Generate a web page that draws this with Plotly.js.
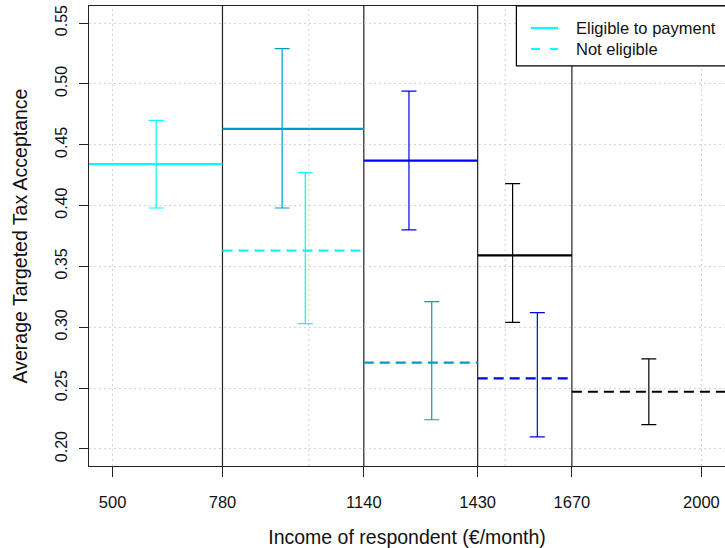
<!DOCTYPE html>
<html><head><meta charset="utf-8">
<script src="https://cdn.plot.ly/plotly-3.0.1.min.js"></script>
<style>html,body{margin:0;padding:0;background:#fff}</style>
</head><body><div id="chart" style="width:725px;height:548px"></div>
<script>
// Colours per income group (same sequence for both series)
const groupColors = ['#00FFFF', '#009ACD', '#0000FF', '#000000'];

// Eligible to payment (solid)
const eligLeft  = [0, 780, 1140, 1430];
const eligRight = [780, 1140, 1430, 1670];
const eligMean  = [0.434, 0.463, 0.437, 0.359];
const eligCIx   = [611, 932, 1255, 1519];
const eligLower = [0.398, 0.398, 0.380, 0.304];
const eligUpper = [0.470, 0.529, 0.494, 0.418];

// Not eligible (dashed)
const notLeft  = [780, 1140, 1430, 1670];
const notRight = [1140, 1430, 1670, 3000];
const notMean  = [0.363, 0.271, 0.258, 0.247];
const notCIx   = [991, 1313, 1582, 1866];
const notLower = [0.303, 0.224, 0.210, 0.220];
const notUpper = [0.427, 0.321, 0.312, 0.274];

const incomeBreaks = [780, 1140, 1430, 1670];
const xTickVals = [500, 780, 1140, 1430, 1670, 2000];
const xGrid = [500, 1000, 1500, 2000];

// Legend entries
const legendLabels = ['Eligible to payment', 'Not eligible'];
const legendDash = ['solid', '9px,10px'];
const legendColor = '#00FFFF';

const FONT = '"Liberation Sans", Arial, sans-serif';
const traces = [];

function addSeries(left, right, mean, cix, lower, upper, dash, name) {
  for (let i = 0; i < mean.length; i++) {
    traces.push({
      type: 'scatter', mode: 'lines',
      x: [left[i], right[i]], y: [mean[i], mean[i]],
      line: {color: groupColors[i], width: 2.2, dash: dash},
      name: name, showlegend: false, hoverinfo: 'skip'
    });
  }
  for (let i = 0; i < mean.length; i++) {
    traces.push({
      type: 'scatter', mode: 'markers',
      x: [cix[i]], y: [mean[i]],
      marker: {size: 1, opacity: 0},
      error_y: {type: 'data', symmetric: false,
        array: [upper[i] - mean[i]], arrayminus: [mean[i] - lower[i]],
        color: groupColors[i], thickness: 1.2, width: 7.5},
      showlegend: false, hoverinfo: 'skip'
    });
  }
}
addSeries(eligLeft, eligRight, eligMean, eligCIx, eligLower, eligUpper, 'solid', 'Eligible to payment');
addSeries(notLeft, notRight, notMean, notCIx, notLower, notUpper, '10px,6px', 'Not eligible');

const shapes = [];
xGrid.forEach(v => shapes.push({type: 'line', xref: 'x', yref: 'paper', x0: v, x1: v, y0: 0, y1: 1,
  line: {color: '#D3D3D3', width: 1, dash: '2px,3px'}, layer: 'below'}));
incomeBreaks.forEach(v => shapes.push({type: 'line', xref: 'x', yref: 'paper', x0: v, x1: v, y0: 0, y1: 1,
  line: {color: '#222222', width: 1.2}, layer: 'between'}));
// legend frame
shapes.push({type: 'rect', xref: 'paper', yref: 'paper', x0: 0.672, x1: 1.01, y0: 0.870, y1: 1.0,
  fillcolor: '#fff', line: {color: '#000', width: 1.2}, layer: 'above'});
const annotations = [];
const rowY = [0.9522, 0.9065];
legendLabels.forEach((lab, i) => {
  shapes.push({type: 'line', xref: 'paper', yref: 'paper', x0: 0.695, x1: 0.7374, y0: rowY[i], y1: rowY[i],
    line: {color: legendColor, width: 2.2, dash: legendDash[i]}, layer: 'above'});
  annotations.push({xref: 'paper', yref: 'paper', x: 0.7626, y: rowY[i], xanchor: 'left', yanchor: 'middle',
    text: lab, showarrow: false, font: {family: FONT, size: 16.5, color: '#111'}});
});

const layout = {
  width: 725, height: 548, autosize: false,
  margin: {l: 89, r: 0, t: 6, b: 82},
  paper_bgcolor: '#fff', plot_bgcolor: '#fff',
  font: {family: FONT, color: '#111', size: 16.5},
  showlegend: false,
  xaxis: {range: [440, 2060], tickmode: 'array', tickvals: xTickVals,
    ticktext: xTickVals.map(String),
    showgrid: false, zeroline: false, showline: true, mirror: true, linecolor: '#222', linewidth: 1.2,
    ticks: 'outside', ticklen: 10, tickcolor: '#222', tickwidth: 1,
    tickfont: {family: FONT, size: 16.5}, ticklabelstandoff: 11,
    title: {text: 'Income of respondent (€/month)', font: {family: FONT, size: 19.5}, standoff: 21}},
  yaxis: {range: [0.186, 0.564], tickmode: 'array',
    tickvals: [0.20, 0.25, 0.30, 0.35, 0.40, 0.45, 0.50, 0.55], tickformat: '.2f',
    showgrid: true, gridcolor: '#D3D3D3', griddash: '2px,3px', gridwidth: 1,
    zeroline: false, showline: true, mirror: true, linecolor: '#222', linewidth: 1.2,
    ticks: 'outside', ticklen: 9, tickcolor: '#222', tickwidth: 1, tickangle: -90,
    tickfont: {family: FONT, size: 16}, ticklabelstandoff: 5,
    title: {text: 'Average Targeted Tax Acceptance', font: {family: FONT, size: 19.5}, standoff: 20}},
  shapes: shapes,
  annotations: annotations
};

Plotly.newPlot('chart', traces, layout, {displayModeBar: false, staticPlot: true});
</script></body></html>
